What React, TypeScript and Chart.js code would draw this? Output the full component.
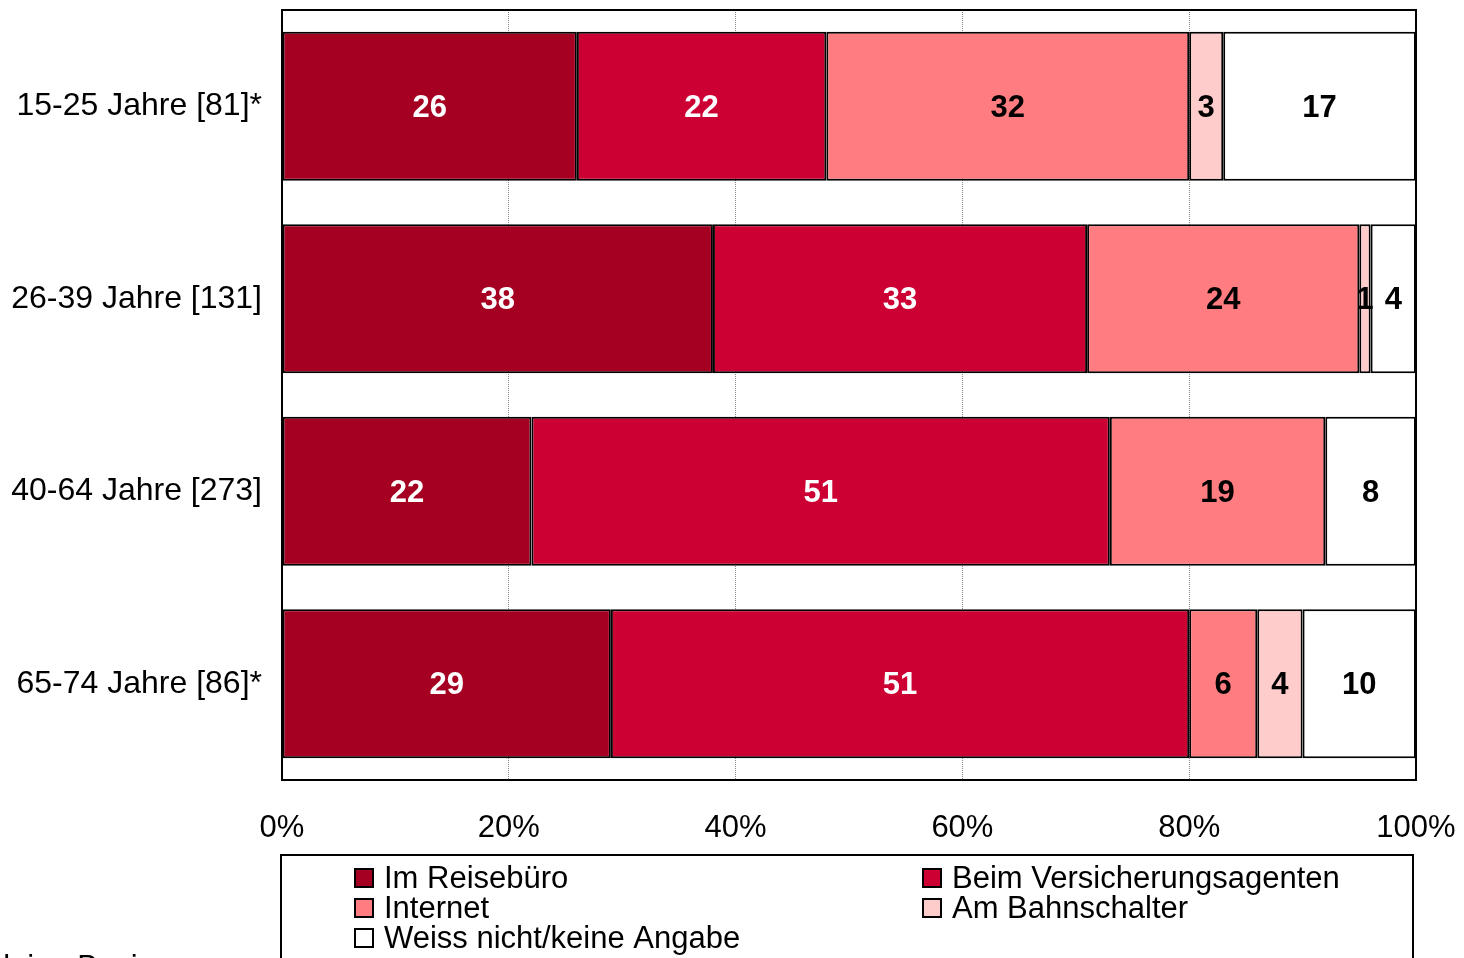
import React, { useEffect, useRef } from "react";
import { Chart, registerables } from "chart.js";

Chart.register(...registerables);

const categories = ["15-25 Jahre [81]*", "26-39 Jahre [131]", "40-64 Jahre [273]", "65-74 Jahre [86]*"];
const seriesNames = ["Im Reisebüro", "Beim Versicherungsagenten", "Internet", "Am Bahnschalter", "Weiss nicht/keine Angabe"];
const reisebuero = [26, 38, 22, 29];
const versicherung = [22, 33, 51, 51];
const internet = [32, 24, 19, 6];
const bahnschalter = [3, 1, 0, 4];
const weissNicht = [17, 4, 8, 10];
const seriesColors = ["#A50021", "#CC0033", "#FF7C80", "#FFCCCC", "#FFFFFF"];
const labelColors = ["#FFFFFF", "#FFFFFF", "#000000", "#000000", "#000000"];
const xTicks = [0, 20, 40, 60, 80, 100];
const footnote = "* kleine Basis";

const FONT = "'Liberation Sans', Arial, sans-serif";
const FS = 31;

function zeroPad(scale: any) {
  scale.paddingTop = 0;
  scale.paddingBottom = 0;
  scale.paddingLeft = 0;
  scale.paddingRight = 0;
}

export default function App() {
  const ref = useRef<HTMLCanvasElement | null>(null);

  useEffect(() => {
    const canvas = ref.current;
    if (!canvas) return;
    const values = [reisebuero, versicherung, internet, bahnschalter, weissNicht];

    const framePlugin = {
      id: "frame",
      afterDatasetsDraw(chart: any) {
        const { ctx, chartArea } = chart;
        ctx.save();
        ctx.strokeStyle = "#000";
        ctx.lineWidth = 2;
        ctx.strokeRect(chartArea.left, chartArea.top, chartArea.right - chartArea.left, chartArea.bottom - chartArea.top);
        ctx.restore();
      },
    };

    const labelPlugin = {
      id: "valueLabels",
      afterDatasetsDraw(chart: any) {
        const { ctx } = chart;
        ctx.save();
        ctx.font = `bold ${FS}px ${FONT}`;
        ctx.textAlign = "center";
        ctx.textBaseline = "middle";
        chart.data.datasets.forEach((ds: any, di: number) => {
          const meta = chart.getDatasetMeta(di);
          meta.data.forEach((bar: any, i: number) => {
            const v = ds.data[i];
            if (!v) return;
            const cx = (bar.x + bar.base) / 2;
            ctx.fillStyle = labelColors[di];
            ctx.fillText(String(v), cx, bar.y + 2);
          });
        });
        ctx.restore();
      },
    };

    const legendPlugin = {
      id: "customLegend",
      afterDraw(chart: any) {
        const { ctx } = chart;
        ctx.save();
        ctx.strokeStyle = "#000";
        ctx.lineWidth = 2;
        ctx.strokeRect(281, 855, 1132, 130);
        ctx.font = `${FS}px ${FONT}`;
        ctx.textBaseline = "middle";
        ctx.textAlign = "left";
        const pos = [
          [355, 878],
          [923, 878],
          [355, 908],
          [923, 908],
          [355, 938],
        ];
        seriesNames.forEach((name, i) => {
          const [x, y] = pos[i];
          ctx.fillStyle = seriesColors[i];
          ctx.fillRect(x, y - 9, 18, 18);
          ctx.strokeStyle = "#000";
          ctx.lineWidth = 2;
          ctx.strokeRect(x, y - 9, 18, 18);
          ctx.fillStyle = "#000";
          ctx.fillText(name, x + 29, y + 1);
        });
        ctx.textBaseline = "alphabetic";
        ctx.fillText(footnote, -33, 977);
        ctx.restore();
      },
    };

    const chart = new Chart(canvas, {
      type: "bar",
      data: {
        labels: categories,
        datasets: seriesNames.map((name, i) => ({
          label: name,
          data: values[i],
          backgroundColor: seriesColors[i],
          borderColor: "#000",
          borderWidth: 2,
          borderSkipped: false,
          categoryPercentage: 1,
          barPercentage: 0.775,
        })),
      },
      options: {
        indexAxis: "y",
        animation: false,
        responsive: false,
        maintainAspectRatio: false,
        layout: { padding: { left: 0, top: 10, right: 48, bottom: 0 } },
        plugins: { legend: { display: false }, tooltip: { enabled: false } },
        scales: {
          x: {
            stacked: true,
            min: 0,
            max: 100,
            afterBuildTicks(scale: any) {
              scale.ticks = xTicks.map((v) => ({ value: v }));
            },
            afterFit(scale: any) {
              scale.height = 178;
              zeroPad(scale);
            },
            ticks: {
              color: "#000",
              font: { size: FS, family: FONT },
              padding: 30,
              maxRotation: 0,
              callback: (v: any) => v + "%",
            },
            grid: {
              color: "#888888",
              lineWidth: 1,
              drawTicks: false,
            },
            border: { display: false, dash: [1, 1] },
          },
          y: {
            stacked: true,
            afterFit(scale: any) {
              scale.width = 282;
              zeroPad(scale);
            },
            ticks: {
              color: "#000",
              font: { size: 32, family: FONT },
              padding: 20,
            },
            grid: { display: false, drawTicks: false },
            border: { display: false },
          },
        },
      },
      plugins: [labelPlugin, framePlugin, legendPlugin],
    } as any);

    return () => chart.destroy();
  }, []);

  return (
    <div style={{ position: "fixed", left: 0, top: 0, width: 1464, height: 958, background: "#fff" }}>
      <canvas ref={ref} width={1464} height={958} style={{ display: "block" }} />
    </div>
  );
}
